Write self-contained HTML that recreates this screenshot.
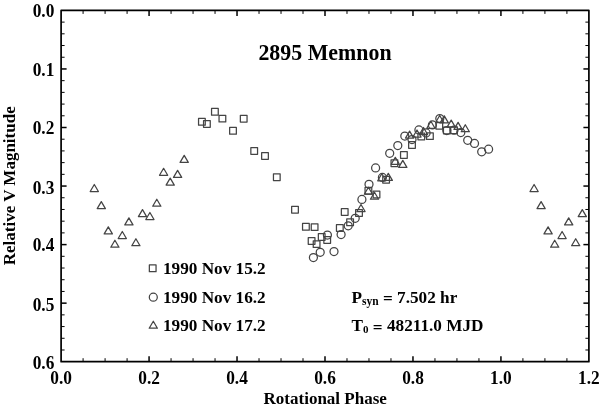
<!DOCTYPE html>
<html><head><meta charset="utf-8"><style>
html,body{margin:0;padding:0;background:#fff;}
body{width:600px;height:408px;overflow:hidden;}
svg{display:block;will-change:transform;}
text{font-family:"Liberation Serif",serif;font-weight:bold;fill:#000;}
.tl{font-size:19.5px;}
.ti{font-size:23.8px;}
.ax{font-size:17px;}
.lg{font-size:17.2px;}
</style></head><body>
<svg width="600" height="408" viewBox="0 0 600 408">
<rect x="0" y="0" width="600" height="408" fill="#fff"/>
<g fill="none" stroke="#444" stroke-width="1.25" stroke-linejoin="round">
<rect x="198.55" y="118.45" width="6.7" height="6.7"/>
<rect x="203.55" y="120.55" width="6.7" height="6.7"/>
<rect x="211.55" y="108.45" width="6.7" height="6.7"/>
<rect x="219.05" y="115.25" width="6.7" height="6.7"/>
<rect x="229.65" y="127.45" width="6.7" height="6.7"/>
<rect x="240.35" y="115.35" width="6.7" height="6.7"/>
<rect x="250.85" y="147.55" width="6.7" height="6.7"/>
<rect x="261.65" y="152.65" width="6.7" height="6.7"/>
<rect x="273.45" y="173.85" width="6.7" height="6.7"/>
<rect x="291.65" y="206.35" width="6.7" height="6.7"/>
<rect x="302.55" y="223.45" width="6.7" height="6.7"/>
<rect x="311.25" y="223.75" width="6.7" height="6.7"/>
<rect x="308.25" y="237.65" width="6.7" height="6.7"/>
<rect x="313.25" y="240.75" width="6.7" height="6.7"/>
<rect x="318.35" y="233.55" width="6.7" height="6.7"/>
<rect x="323.85" y="236.65" width="6.7" height="6.7"/>
<rect x="336.45" y="224.65" width="6.7" height="6.7"/>
<rect x="341.35" y="208.65" width="6.7" height="6.7"/>
<rect x="346.75" y="218.95" width="6.7" height="6.7"/>
<rect x="355.65" y="209.65" width="6.7" height="6.7"/>
<rect x="365.05" y="187.35" width="6.7" height="6.7"/>
<rect x="373.15" y="191.15" width="6.7" height="6.7"/>
<rect x="382.75" y="176.35" width="6.7" height="6.7"/>
<rect x="391.05" y="159.85" width="6.7" height="6.7"/>
<rect x="400.55" y="151.55" width="6.7" height="6.7"/>
<rect x="408.65" y="141.65" width="6.7" height="6.7"/>
<rect x="417.95" y="133.05" width="6.7" height="6.7"/>
<rect x="426.55" y="132.75" width="6.7" height="6.7"/>
<rect x="435.95" y="122.35" width="6.7" height="6.7"/>
<rect x="443.45" y="127.15" width="6.7" height="6.7"/>
<rect x="450.65" y="126.85" width="6.7" height="6.7"/>
<circle cx="313.40" cy="257.50" r="4.0"/>
<circle cx="320.20" cy="252.30" r="4.0"/>
<circle cx="334.00" cy="251.60" r="4.0"/>
<circle cx="327.40" cy="235.00" r="4.0"/>
<circle cx="341.10" cy="234.60" r="4.0"/>
<circle cx="348.20" cy="225.80" r="4.0"/>
<circle cx="355.20" cy="218.30" r="4.0"/>
<circle cx="361.90" cy="199.40" r="4.0"/>
<circle cx="369.00" cy="184.30" r="4.0"/>
<circle cx="375.60" cy="167.90" r="4.0"/>
<circle cx="382.40" cy="177.40" r="4.0"/>
<circle cx="389.70" cy="153.30" r="4.0"/>
<circle cx="397.80" cy="145.60" r="4.0"/>
<circle cx="404.80" cy="136.10" r="4.0"/>
<circle cx="412.00" cy="139.50" r="4.0"/>
<circle cx="418.90" cy="129.90" r="4.0"/>
<circle cx="426.10" cy="132.90" r="4.0"/>
<circle cx="432.40" cy="124.90" r="4.0"/>
<circle cx="439.80" cy="118.60" r="4.0"/>
<circle cx="446.80" cy="130.50" r="4.0"/>
<circle cx="454.00" cy="130.20" r="4.0"/>
<circle cx="460.80" cy="132.60" r="4.0"/>
<circle cx="467.70" cy="140.30" r="4.0"/>
<circle cx="474.50" cy="143.40" r="4.0"/>
<circle cx="481.70" cy="151.80" r="4.0"/>
<circle cx="488.60" cy="149.20" r="4.0"/>
<path d="M94.30 184.50L98.40 191.50L90.20 191.50Z"/>
<path d="M101.30 201.60L105.40 208.60L97.20 208.60Z"/>
<path d="M108.30 226.90L112.40 233.90L104.20 233.90Z"/>
<path d="M114.90 240.20L119.00 247.20L110.80 247.20Z"/>
<path d="M122.30 231.50L126.40 238.50L118.20 238.50Z"/>
<path d="M128.90 217.90L133.00 224.90L124.80 224.90Z"/>
<path d="M135.90 238.70L140.00 245.70L131.80 245.70Z"/>
<path d="M142.50 209.60L146.60 216.60L138.40 216.60Z"/>
<path d="M149.90 212.50L154.00 219.50L145.80 219.50Z"/>
<path d="M156.80 199.20L160.90 206.20L152.70 206.20Z"/>
<path d="M163.60 168.30L167.70 175.30L159.50 175.30Z"/>
<path d="M170.20 178.10L174.30 185.10L166.10 185.10Z"/>
<path d="M177.60 170.40L181.70 177.40L173.50 177.40Z"/>
<path d="M184.20 155.40L188.30 162.40L180.10 162.40Z"/>
<path d="M361.00 204.50L365.10 211.50L356.90 211.50Z"/>
<path d="M368.40 187.20L372.50 194.20L364.30 194.20Z"/>
<path d="M374.50 192.20L378.60 199.20L370.40 199.20Z"/>
<path d="M381.80 173.80L385.90 180.80L377.70 180.80Z"/>
<path d="M388.30 173.40L392.40 180.40L384.20 180.40Z"/>
<path d="M395.30 157.30L399.40 164.30L391.20 164.30Z"/>
<path d="M402.80 160.40L406.90 167.40L398.70 167.40Z"/>
<path d="M409.60 131.10L413.70 138.10L405.50 138.10Z"/>
<path d="M417.00 130.00L421.10 137.00L412.90 137.00Z"/>
<path d="M423.50 127.50L427.60 134.50L419.40 134.50Z"/>
<path d="M430.90 121.30L435.00 128.30L426.80 128.30Z"/>
<path d="M439.70 115.50L443.80 122.50L435.60 122.50Z"/>
<path d="M444.30 115.90L448.40 122.90L440.20 122.90Z"/>
<path d="M451.20 120.10L455.30 127.10L447.10 127.10Z"/>
<path d="M458.10 122.40L462.20 129.40L454.00 129.40Z"/>
<path d="M465.30 124.70L469.40 131.70L461.20 131.70Z"/>
<path d="M534.10 184.50L538.20 191.50L530.00 191.50Z"/>
<path d="M541.10 201.60L545.20 208.60L537.00 208.60Z"/>
<path d="M548.10 226.90L552.20 233.90L544.00 233.90Z"/>
<path d="M554.70 240.20L558.80 247.20L550.60 247.20Z"/>
<path d="M562.10 231.50L566.20 238.50L558.00 238.50Z"/>
<path d="M568.70 217.90L572.80 224.90L564.60 224.90Z"/>
<path d="M575.70 238.70L579.80 245.70L571.60 245.70Z"/>
<path d="M582.30 209.60L586.40 216.60L578.20 216.60Z"/>
</g>
<g stroke="#000" fill="none">
<line x1="83.09" y1="10.4" x2="83.09" y2="13.9" stroke-width="1.0"/>
<line x1="83.09" y1="361.7" x2="83.09" y2="358.2" stroke-width="1.0"/>
<line x1="105.08" y1="10.4" x2="105.08" y2="13.9" stroke-width="1.0"/>
<line x1="105.08" y1="361.7" x2="105.08" y2="358.2" stroke-width="1.0"/>
<line x1="127.08" y1="10.4" x2="127.08" y2="13.9" stroke-width="1.0"/>
<line x1="127.08" y1="361.7" x2="127.08" y2="358.2" stroke-width="1.0"/>
<line x1="149.07" y1="10.4" x2="149.07" y2="15.9" stroke-width="1.5"/>
<line x1="149.07" y1="361.7" x2="149.07" y2="356.2" stroke-width="1.5"/>
<line x1="171.06" y1="10.4" x2="171.06" y2="13.9" stroke-width="1.0"/>
<line x1="171.06" y1="361.7" x2="171.06" y2="358.2" stroke-width="1.0"/>
<line x1="193.05" y1="10.4" x2="193.05" y2="13.9" stroke-width="1.0"/>
<line x1="193.05" y1="361.7" x2="193.05" y2="358.2" stroke-width="1.0"/>
<line x1="215.04" y1="10.4" x2="215.04" y2="13.9" stroke-width="1.0"/>
<line x1="215.04" y1="361.7" x2="215.04" y2="358.2" stroke-width="1.0"/>
<line x1="237.03" y1="10.4" x2="237.03" y2="15.9" stroke-width="1.5"/>
<line x1="237.03" y1="361.7" x2="237.03" y2="356.2" stroke-width="1.5"/>
<line x1="259.03" y1="10.4" x2="259.03" y2="13.9" stroke-width="1.0"/>
<line x1="259.03" y1="361.7" x2="259.03" y2="358.2" stroke-width="1.0"/>
<line x1="281.02" y1="10.4" x2="281.02" y2="13.9" stroke-width="1.0"/>
<line x1="281.02" y1="361.7" x2="281.02" y2="358.2" stroke-width="1.0"/>
<line x1="303.01" y1="10.4" x2="303.01" y2="13.9" stroke-width="1.0"/>
<line x1="303.01" y1="361.7" x2="303.01" y2="358.2" stroke-width="1.0"/>
<line x1="325.00" y1="10.4" x2="325.00" y2="15.9" stroke-width="1.5"/>
<line x1="325.00" y1="361.7" x2="325.00" y2="356.2" stroke-width="1.5"/>
<line x1="346.99" y1="10.4" x2="346.99" y2="13.9" stroke-width="1.0"/>
<line x1="346.99" y1="361.7" x2="346.99" y2="358.2" stroke-width="1.0"/>
<line x1="368.98" y1="10.4" x2="368.98" y2="13.9" stroke-width="1.0"/>
<line x1="368.98" y1="361.7" x2="368.98" y2="358.2" stroke-width="1.0"/>
<line x1="390.98" y1="10.4" x2="390.98" y2="13.9" stroke-width="1.0"/>
<line x1="390.98" y1="361.7" x2="390.98" y2="358.2" stroke-width="1.0"/>
<line x1="412.97" y1="10.4" x2="412.97" y2="15.9" stroke-width="1.5"/>
<line x1="412.97" y1="361.7" x2="412.97" y2="356.2" stroke-width="1.5"/>
<line x1="434.96" y1="10.4" x2="434.96" y2="13.9" stroke-width="1.0"/>
<line x1="434.96" y1="361.7" x2="434.96" y2="358.2" stroke-width="1.0"/>
<line x1="456.95" y1="10.4" x2="456.95" y2="13.9" stroke-width="1.0"/>
<line x1="456.95" y1="361.7" x2="456.95" y2="358.2" stroke-width="1.0"/>
<line x1="478.94" y1="10.4" x2="478.94" y2="13.9" stroke-width="1.0"/>
<line x1="478.94" y1="361.7" x2="478.94" y2="358.2" stroke-width="1.0"/>
<line x1="500.93" y1="10.4" x2="500.93" y2="15.9" stroke-width="1.5"/>
<line x1="500.93" y1="361.7" x2="500.93" y2="356.2" stroke-width="1.5"/>
<line x1="522.92" y1="10.4" x2="522.92" y2="13.9" stroke-width="1.0"/>
<line x1="522.92" y1="361.7" x2="522.92" y2="358.2" stroke-width="1.0"/>
<line x1="544.92" y1="10.4" x2="544.92" y2="13.9" stroke-width="1.0"/>
<line x1="544.92" y1="361.7" x2="544.92" y2="358.2" stroke-width="1.0"/>
<line x1="566.91" y1="10.4" x2="566.91" y2="13.9" stroke-width="1.0"/>
<line x1="566.91" y1="361.7" x2="566.91" y2="358.2" stroke-width="1.0"/>
<line x1="61.1" y1="22.11" x2="64.6" y2="22.11" stroke-width="1.0"/>
<line x1="588.9" y1="22.11" x2="585.4" y2="22.11" stroke-width="1.0"/>
<line x1="61.1" y1="33.82" x2="64.6" y2="33.82" stroke-width="1.0"/>
<line x1="588.9" y1="33.82" x2="585.4" y2="33.82" stroke-width="1.0"/>
<line x1="61.1" y1="45.53" x2="64.6" y2="45.53" stroke-width="1.0"/>
<line x1="588.9" y1="45.53" x2="585.4" y2="45.53" stroke-width="1.0"/>
<line x1="61.1" y1="57.24" x2="64.6" y2="57.24" stroke-width="1.0"/>
<line x1="588.9" y1="57.24" x2="585.4" y2="57.24" stroke-width="1.0"/>
<line x1="61.1" y1="68.95" x2="66.6" y2="68.95" stroke-width="1.5"/>
<line x1="588.9" y1="68.95" x2="583.4" y2="68.95" stroke-width="1.5"/>
<line x1="61.1" y1="80.66" x2="64.6" y2="80.66" stroke-width="1.0"/>
<line x1="588.9" y1="80.66" x2="585.4" y2="80.66" stroke-width="1.0"/>
<line x1="61.1" y1="92.37" x2="64.6" y2="92.37" stroke-width="1.0"/>
<line x1="588.9" y1="92.37" x2="585.4" y2="92.37" stroke-width="1.0"/>
<line x1="61.1" y1="104.08" x2="64.6" y2="104.08" stroke-width="1.0"/>
<line x1="588.9" y1="104.08" x2="585.4" y2="104.08" stroke-width="1.0"/>
<line x1="61.1" y1="115.79" x2="64.6" y2="115.79" stroke-width="1.0"/>
<line x1="588.9" y1="115.79" x2="585.4" y2="115.79" stroke-width="1.0"/>
<line x1="61.1" y1="127.50" x2="66.6" y2="127.50" stroke-width="1.5"/>
<line x1="588.9" y1="127.50" x2="583.4" y2="127.50" stroke-width="1.5"/>
<line x1="61.1" y1="139.21" x2="64.6" y2="139.21" stroke-width="1.0"/>
<line x1="588.9" y1="139.21" x2="585.4" y2="139.21" stroke-width="1.0"/>
<line x1="61.1" y1="150.92" x2="64.6" y2="150.92" stroke-width="1.0"/>
<line x1="588.9" y1="150.92" x2="585.4" y2="150.92" stroke-width="1.0"/>
<line x1="61.1" y1="162.63" x2="64.6" y2="162.63" stroke-width="1.0"/>
<line x1="588.9" y1="162.63" x2="585.4" y2="162.63" stroke-width="1.0"/>
<line x1="61.1" y1="174.34" x2="64.6" y2="174.34" stroke-width="1.0"/>
<line x1="588.9" y1="174.34" x2="585.4" y2="174.34" stroke-width="1.0"/>
<line x1="61.1" y1="186.05" x2="66.6" y2="186.05" stroke-width="1.5"/>
<line x1="588.9" y1="186.05" x2="583.4" y2="186.05" stroke-width="1.5"/>
<line x1="61.1" y1="197.76" x2="64.6" y2="197.76" stroke-width="1.0"/>
<line x1="588.9" y1="197.76" x2="585.4" y2="197.76" stroke-width="1.0"/>
<line x1="61.1" y1="209.47" x2="64.6" y2="209.47" stroke-width="1.0"/>
<line x1="588.9" y1="209.47" x2="585.4" y2="209.47" stroke-width="1.0"/>
<line x1="61.1" y1="221.18" x2="64.6" y2="221.18" stroke-width="1.0"/>
<line x1="588.9" y1="221.18" x2="585.4" y2="221.18" stroke-width="1.0"/>
<line x1="61.1" y1="232.89" x2="64.6" y2="232.89" stroke-width="1.0"/>
<line x1="588.9" y1="232.89" x2="585.4" y2="232.89" stroke-width="1.0"/>
<line x1="61.1" y1="244.60" x2="66.6" y2="244.60" stroke-width="1.5"/>
<line x1="588.9" y1="244.60" x2="583.4" y2="244.60" stroke-width="1.5"/>
<line x1="61.1" y1="256.31" x2="64.6" y2="256.31" stroke-width="1.0"/>
<line x1="588.9" y1="256.31" x2="585.4" y2="256.31" stroke-width="1.0"/>
<line x1="61.1" y1="268.02" x2="64.6" y2="268.02" stroke-width="1.0"/>
<line x1="588.9" y1="268.02" x2="585.4" y2="268.02" stroke-width="1.0"/>
<line x1="61.1" y1="279.73" x2="64.6" y2="279.73" stroke-width="1.0"/>
<line x1="588.9" y1="279.73" x2="585.4" y2="279.73" stroke-width="1.0"/>
<line x1="61.1" y1="291.44" x2="64.6" y2="291.44" stroke-width="1.0"/>
<line x1="588.9" y1="291.44" x2="585.4" y2="291.44" stroke-width="1.0"/>
<line x1="61.1" y1="303.15" x2="66.6" y2="303.15" stroke-width="1.5"/>
<line x1="588.9" y1="303.15" x2="583.4" y2="303.15" stroke-width="1.5"/>
<line x1="61.1" y1="314.86" x2="64.6" y2="314.86" stroke-width="1.0"/>
<line x1="588.9" y1="314.86" x2="585.4" y2="314.86" stroke-width="1.0"/>
<line x1="61.1" y1="326.57" x2="64.6" y2="326.57" stroke-width="1.0"/>
<line x1="588.9" y1="326.57" x2="585.4" y2="326.57" stroke-width="1.0"/>
<line x1="61.1" y1="338.28" x2="64.6" y2="338.28" stroke-width="1.0"/>
<line x1="588.9" y1="338.28" x2="585.4" y2="338.28" stroke-width="1.0"/>
<line x1="61.1" y1="349.99" x2="64.6" y2="349.99" stroke-width="1.0"/>
<line x1="588.9" y1="349.99" x2="585.4" y2="349.99" stroke-width="1.0"/>
</g>
<rect x="61.1" y="10.4" width="527.80" height="351.30" fill="none" stroke="#000" stroke-width="1.7" stroke-linejoin="round"/>
<text transform="translate(54.3,16.70) scale(0.89,1)" text-anchor="end" class="tl">0.0</text>
<text transform="translate(54.3,75.55) scale(0.89,1)" text-anchor="end" class="tl">0.1</text>
<text transform="translate(54.3,134.10) scale(0.89,1)" text-anchor="end" class="tl">0.2</text>
<text transform="translate(54.3,193.55) scale(0.89,1)" text-anchor="end" class="tl">0.3</text>
<text transform="translate(54.3,251.30) scale(0.89,1)" text-anchor="end" class="tl">0.4</text>
<text transform="translate(54.3,310.75) scale(0.89,1)" text-anchor="end" class="tl">0.5</text>
<text transform="translate(54.3,368.70) scale(0.89,1)" text-anchor="end" class="tl">0.6</text>
<text transform="translate(61.10,383.9) scale(0.89,1)" text-anchor="middle" class="tl">0.0</text>
<text transform="translate(149.07,383.9) scale(0.89,1)" text-anchor="middle" class="tl">0.2</text>
<text transform="translate(237.03,383.9) scale(0.89,1)" text-anchor="middle" class="tl">0.4</text>
<text transform="translate(325.00,383.9) scale(0.89,1)" text-anchor="middle" class="tl">0.6</text>
<text transform="translate(412.97,383.9) scale(0.89,1)" text-anchor="middle" class="tl">0.8</text>
<text transform="translate(500.93,383.9) scale(0.89,1)" text-anchor="middle" class="tl">1.0</text>
<text transform="translate(588.90,383.9) scale(0.89,1)" text-anchor="middle" class="tl">1.2</text>
<text transform="translate(325,59.6) scale(0.92,1)" text-anchor="middle" class="ti">2895 Memnon</text>
<text x="325.2" y="403.5" text-anchor="middle" class="ax">Rotational Phase</text>
<text transform="translate(14.8,185.8) rotate(-90)" text-anchor="middle" class="ax">Relative V Magnitude</text>
<g fill="none" stroke="#444" stroke-width="1.25" stroke-linejoin="round">
<rect x="149.35" y="264.95" width="6.7" height="6.7"/>
<circle cx="153.30" cy="297.20" r="4.0"/>
<path d="M153.30 321.20L157.40 328.20L149.20 328.20Z"/>
</g>
<text x="163" y="273.8" class="lg">1990 Nov 15.2</text>
<text x="163" y="302.8" class="lg">1990 Nov 16.2</text>
<text x="163" y="331.3" class="lg">1990 Nov 17.2</text>
<text x="351.6" y="302.8" class="lg">P<tspan font-size="11.5px" dy="2.2">syn</tspan><tspan dy="-2.2"> </tspan><tspan dy="1.3">=</tspan><tspan dy="-1.3"> 7.502 hr</tspan></text>
<text x="351.6" y="331.2" class="lg">T<tspan font-size="11px" dy="2.2">0</tspan><tspan dy="-2.2"> </tspan><tspan dy="1.3">=</tspan><tspan dy="-1.3"> 48211.0 MJD</tspan></text>
</svg>
</body></html>
